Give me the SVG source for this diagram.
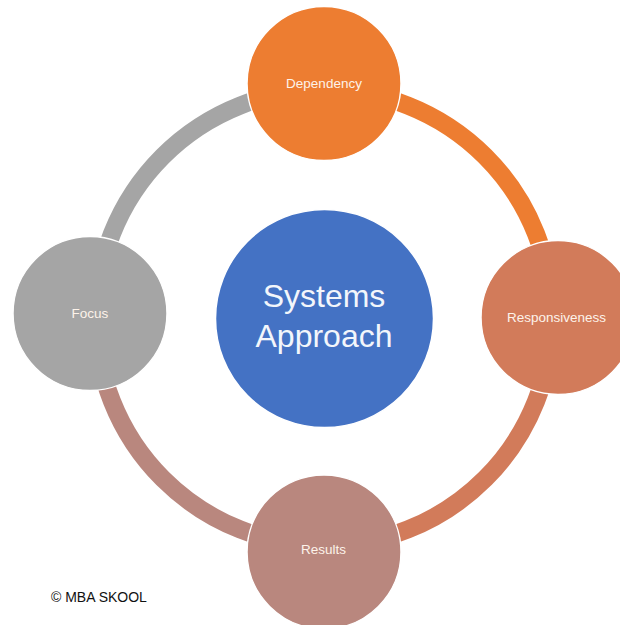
<svg xmlns="http://www.w3.org/2000/svg" width="620" height="625" viewBox="0 0 620 625">
  <style>
    .arc { fill: none; stroke-width: 18; }
    .node { stroke: #ffffff; stroke-width: 1.5; }
    .lbl { font-family: "Liberation Sans", Arial, sans-serif; font-size: 13.5px; fill: #fdf3ea; text-anchor: middle; }
    .center { font-family: "Liberation Sans", Arial, sans-serif; font-size: 32px; fill: #f3f6fb; text-anchor: middle; }
    .copy { font-family: "Liberation Sans", Arial, sans-serif; font-size: 14px; fill: #111111; }
  </style>
  <rect width="620" height="625" fill="#ffffff"/>
  <g id="connectors">
    <path class="arc" stroke="#a5a5a5" d="M 96 317.5 A 228 228 0 0 1 324 89.5"/>
    <path class="arc" stroke="#ed7d31" d="M 324 89.5 A 228 228 0 0 1 552 317.5"/>
    <path class="arc" stroke="#d27b5a" d="M 552 317.5 A 228 228 0 0 1 324 545.5"/>
    <path class="arc" stroke="#b9877e" d="M 324 545.5 A 228 228 0 0 1 96 317.5"/>
  </g>
  <g id="center">
    <circle class="node" cx="324.5" cy="318.5" r="109" fill="#4472c4" stroke-width="1"/>
    <text class="center" x="324" y="307">Systems</text>
    <text class="center" x="324" y="347">Approach</text>
  </g>
  <g id="dependency">
    <circle class="node" cx="324" cy="83.5" r="77" fill="#ed7d31"/>
    <text class="lbl" x="324" y="88">Dependency</text>
  </g>
  <g id="responsiveness">
    <circle class="node" cx="558" cy="317.5" r="77" fill="#d27b5a"/>
    <text class="lbl" x="556.5" y="321.5">Responsiveness</text>
  </g>
  <g id="results">
    <circle class="node" cx="324" cy="552" r="77" fill="#b9877e"/>
    <text class="lbl" x="323.5" y="554">Results</text>
  </g>
  <g id="focus">
    <circle class="node" cx="90" cy="313.5" r="77" fill="#a5a5a5"/>
    <text class="lbl" x="90" y="317.5">Focus</text>
  </g>
  <text class="copy" x="51" y="602">© MBA SKOOL</text>
</svg>
